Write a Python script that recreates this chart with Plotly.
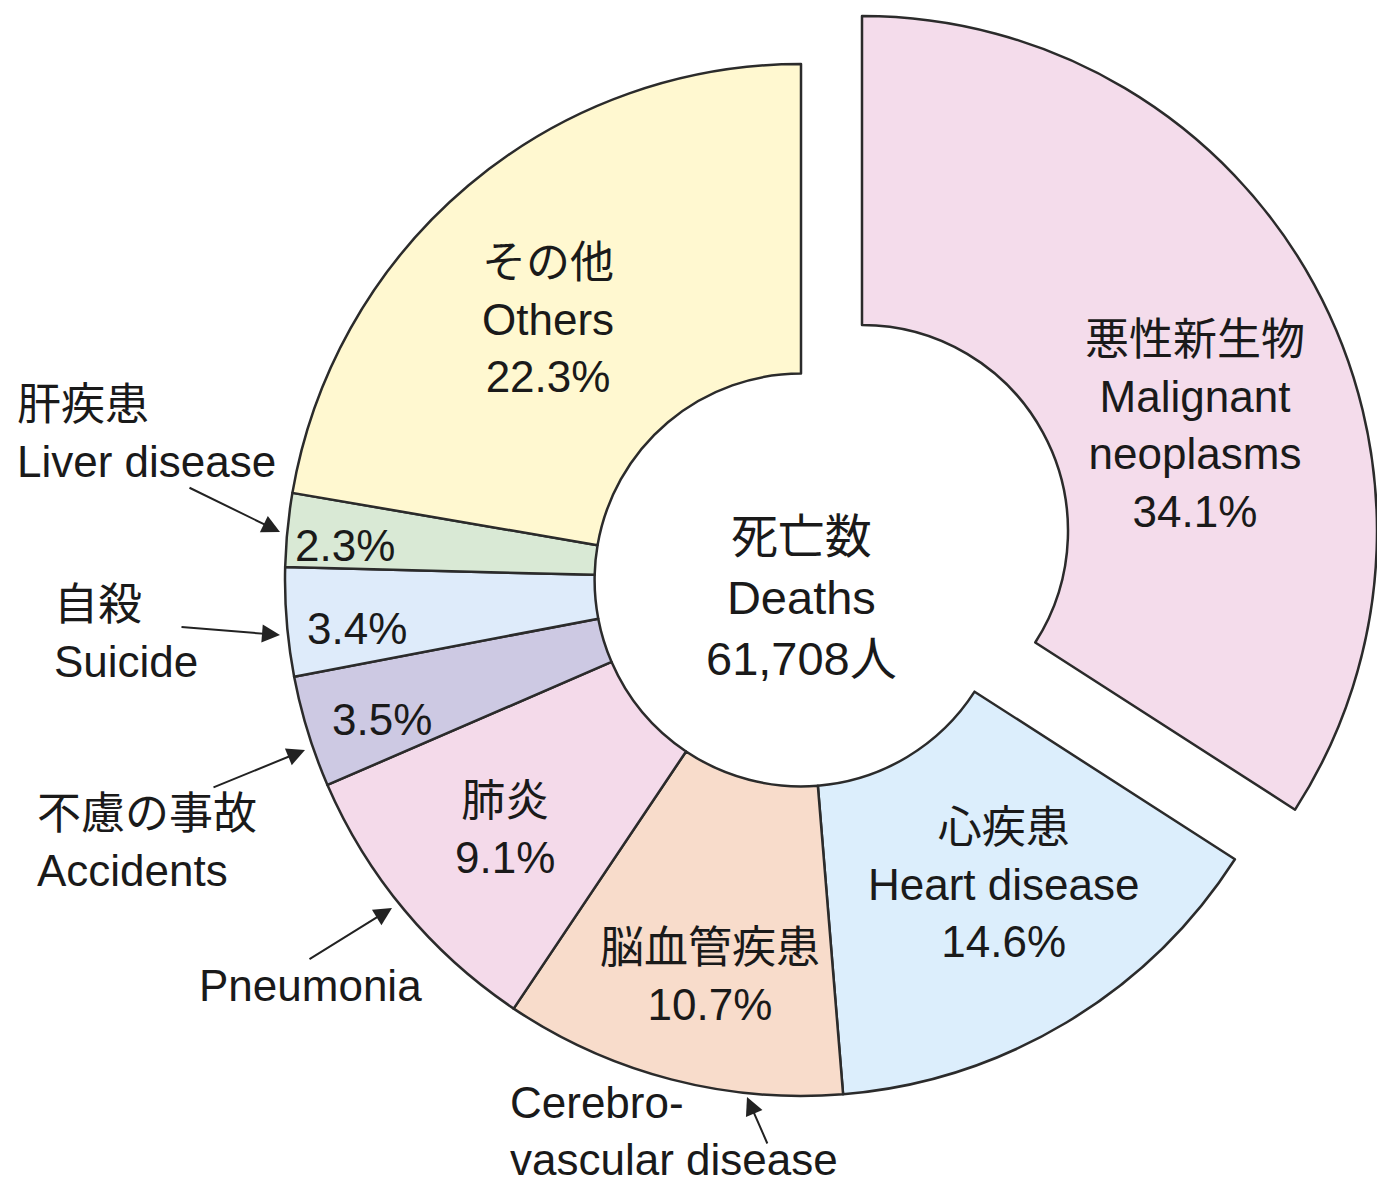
import plotly.graph_objects as go

# ---------------- data ----------------
categories_ja = ["悪性新生物", "心疾患", "脳血管疾患", "肺炎", "不慮の事故", "自殺", "肝疾患", "その他"]
categories_en = ["Malignant<br>neoplasms", "Heart disease", "Cerebro-<br>vascular disease", "Pneumonia",
                 "Accidents", "Suicide", "Liver disease", "Others"]
shares = [34.1, 14.6, 10.7, 9.1, 3.5, 3.4, 2.3, 22.3]
total_deaths = 61708
center_ja = "死亡数"
center_en = "Deaths"

# ---------------- style ----------------
colors = ["#F4DCEB", "#DCEEFC", "#F8DCCB", "#F4DAEA", "#CDC9E3", "#DEEBFA", "#D9E9D5", "#FFF8D0"]
W, H = 1377, 1189
CX, CY, R = 801, 580, 516                # in page pixels
PULL_DX, PULL_DY = 62, -49               # offset of the exploded slice (px)
HOLE = 0.40
LINE = "#2b2b2b"
FONT = "Liberation Sans, Arial, Noto Sans CJK JP, sans-serif"
FS = 44
TXT = "#1a1a1a"
pulled = 0  # index of exploded slice

TRANSP = "rgba(0,0,0,0)"


def px(x):
    return x / W


def py(y):
    return 1 - y / H


def dom(cx, cy, r):
    return dict(x=[max(0, px(cx - r)), min(1, px(cx + r))],
                y=[max(0, py(cy + r)), min(1, py(cy - r))])


def pct(v):
    return f"{v:.1f}%"


fig = go.Figure()

# main ring (exploded slice hidden)
fig.add_trace(go.Pie(
    values=shares, labels=[c.replace("<br>", " ") for c in categories_en],
    sort=False, direction="clockwise", rotation=0, hole=HOLE,
    marker=dict(colors=[TRANSP if i == pulled else c for i, c in enumerate(colors)],
                line=dict(color=[TRANSP if i == pulled else LINE for i in range(len(shares))], width=2.5)),
    textinfo="none", hoverinfo="skip", showlegend=False,
    domain=dom(CX, CY, R),
))
# exploded slice
fig.add_trace(go.Pie(
    values=shares, labels=[c.replace("<br>", " ") for c in categories_en],
    sort=False, direction="clockwise", rotation=0, hole=HOLE,
    marker=dict(colors=[c if i == pulled else TRANSP for i, c in enumerate(colors)],
                line=dict(color=[LINE if i == pulled else TRANSP for i in range(len(shares))], width=2.5)),
    textinfo="none", hoverinfo="skip", showlegend=False,
    domain=dom(CX + PULL_DX, CY + PULL_DY, R),
))

ann = []

# inside labels: (index, mode, center px)
inside = [
    (0, "full", (1195, 425)),
    (1, "full", (1003, 884)),
    (2, "ja", (710, 976)),
    (3, "ja", (505, 829)),
    (4, "pct", (382, 720)),
    (5, "pct", (357, 628)),
    (6, "pct", (345, 545)),
    (7, "full", (548, 319)),
]
for i, mode, (x, y) in inside:
    if mode == "full":
        t = f"{categories_ja[i]}<br>{categories_en[i]}<br>{pct(shares[i])}"
    elif mode == "ja":
        t = f"{categories_ja[i]}<br>{pct(shares[i])}"
    else:
        t = pct(shares[i])
    ann.append(dict(x=px(x), y=py(y), xref="paper", yref="paper", text=t, showarrow=False,
                    xanchor="center", yanchor="middle", align="center",
                    font=dict(family=FONT, size=FS, color=TXT)))

# outside labels: (index, mode, anchor, position px)
outside = [
    (2, "en", "left", (508, 1131)),
    (3, "en", "center", (310, 985)),
    (4, "both", "left", (35, 842)),
    (5, "both", "left", (52, 633)),
    (6, "both", "left", (15, 433)),
]
for i, mode, xa, (x, y) in outside:
    t = categories_en[i] if mode == "en" else f"{categories_ja[i]}<br>{categories_en[i]}"
    ann.append(dict(x=px(x), y=py(y), xref="paper", yref="paper", text=t, showarrow=False,
                    xanchor=xa, yanchor="middle", align="left",
                    font=dict(family=FONT, size=FS, color=TXT)))

# arrows: tip px, tail offset px
arrows = [
    ((280, 532), (-92, -45)),
    ((280, 635), (-100, -8)),
    ((305, 750), (-93, 38)),
    ((392, 908), (-84, 52)),
    ((747, 1097), (21, 48)),
]
for (x, y), (dx, dy) in arrows:
    ann.append(dict(x=px(x), y=py(y), xref="paper", yref="paper", text="", showarrow=True,
                    ax=dx, ay=dy, arrowhead=2, arrowsize=1.8, arrowwidth=2, arrowcolor="#222",
                    standoff=0, startstandoff=0))

# center text
ann.append(dict(x=px(CX), y=py(597), xref="paper", yref="paper",
                text=f"{center_ja}<br>{center_en}<br>{total_deaths:,}人", showarrow=False,
                xanchor="center", yanchor="middle", align="center",
                font=dict(family=FONT, size=47, color=TXT)))

fig.update_layout(width=W, height=H, margin=dict(l=0, r=0, t=0, b=0),
                  paper_bgcolor="white", plot_bgcolor="white", annotations=ann)

fig.write_html("out.html", config={"displayModeBar": False},
               post_script="document.body.style.margin='0px';")
